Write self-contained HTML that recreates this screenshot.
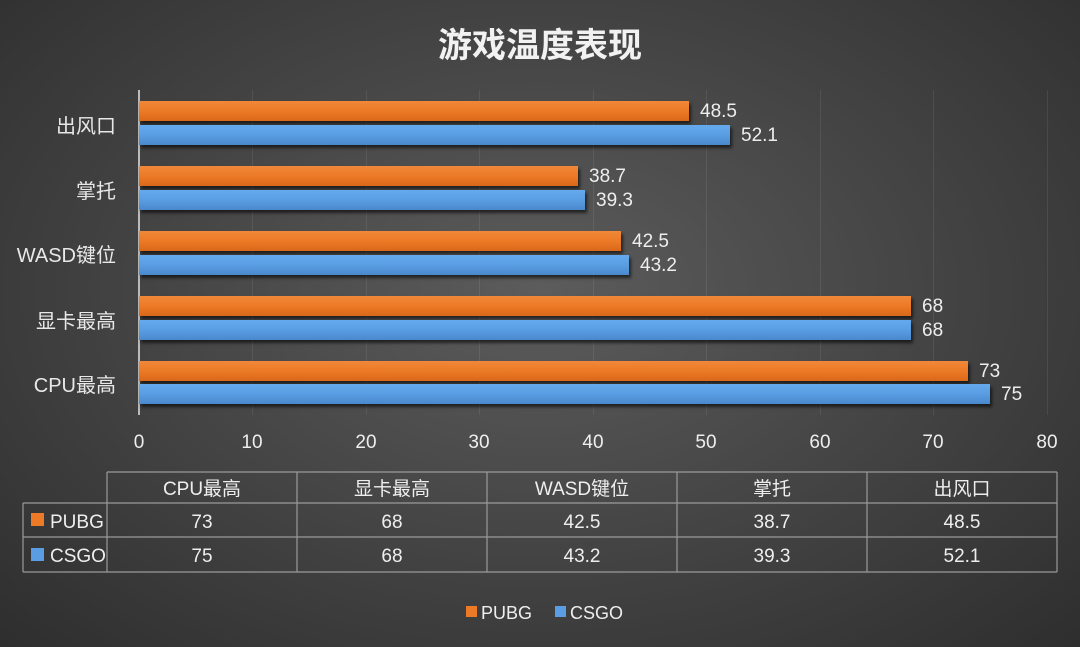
<!DOCTYPE html>
<html><head><meta charset="utf-8"><style>
body{margin:0;width:1080px;height:647px;overflow:hidden;background:radial-gradient(ellipse at 50% 45%,#5c5c5c 0%,#474747 45%,#2e2e2e 100%);font-family:"Liberation Sans","Noto Sans CJK SC",sans-serif;color:#e8e8e8;position:relative}
.a{position:absolute}
.bar{position:absolute;left:139px;height:20px;box-shadow:2px 3px 3px rgba(0,0,0,.6)}
.o{background:linear-gradient(#f0883a,#ec7a26 50%,#d9681a)}
.b{background:linear-gradient(#66aaee,#5a9de2 50%,#4a88cc)}
.v{position:absolute;font-size:19px;color:#eee}
.c{position:absolute;font-size:20px;text-align:right;width:120px;left:0}
.t{position:absolute;font-size:19px;color:#eee;text-align:center;width:40px}
.g{position:absolute;top:90px;height:325px;width:1px;background:rgba(255,255,255,.08)}
</style></head><body>
<div class="a" style="left:0;width:1080px;top:18px;text-align:center;font-size:34px;font-weight:bold;color:#f2f2f2">游戏温度表现</div>
<div class="g" style="left:252px"></div><div class="g" style="left:366px"></div><div class="g" style="left:479px"></div><div class="g" style="left:593px"></div><div class="g" style="left:706px"></div><div class="g" style="left:820px"></div><div class="g" style="left:933px"></div><div class="g" style="left:1047px"></div>
<div class="a" style="left:138px;top:90px;width:2px;height:325px;background:#bbb"></div>

<div class="bar o" style="top:101px;width:550px"></div><div class="bar b" style="top:125px;width:591px"></div>
<div class="bar o" style="top:166px;width:439px"></div><div class="bar b" style="top:190px;width:446px"></div>
<div class="bar o" style="top:231px;width:482px"></div><div class="bar b" style="top:255px;width:490px"></div>
<div class="bar o" style="top:296px;width:772px"></div><div class="bar b" style="top:320px;width:772px"></div>
<div class="bar o" style="top:361px;width:829px"></div><div class="bar b" style="top:384px;width:851px"></div>

<div class="v" style="left:700px;top:101px">48.5</div><div class="v" style="left:741px;top:125px">52.1</div>
<div class="v" style="left:589px;top:166px">38.7</div><div class="v" style="left:596px;top:190px">39.3</div>
<div class="v" style="left:632px;top:231px">42.5</div><div class="v" style="left:640px;top:255px">43.2</div>
<div class="v" style="left:922px;top:296px">68</div><div class="v" style="left:922px;top:320px">68</div>
<div class="v" style="left:979px;top:361px">73</div><div class="v" style="left:1001px;top:384px">75</div>

<div class="c" style="left:-4px;top:110px">出风口</div>
<div class="c" style="left:-4px;top:175px">掌托</div>
<div class="c" style="left:-4px;top:239px">WASD键位</div>
<div class="c" style="left:-4px;top:305px">显卡最高</div>
<div class="c" style="left:-4px;top:369px">CPU最高</div>

<div class="t" style="left:119px;top:432px">0</div><div class="t" style="left:232px;top:432px">10</div><div class="t" style="left:346px;top:432px">20</div><div class="t" style="left:459px;top:432px">30</div><div class="t" style="left:573px;top:432px">40</div><div class="t" style="left:686px;top:432px">50</div><div class="t" style="left:800px;top:432px">60</div><div class="t" style="left:913px;top:432px">70</div><div class="t" style="left:1027px;top:432px">80</div>

<svg class="a" style="left:0;top:0" width="1080" height="647">
<g stroke="#9a9a9a" stroke-width="1.2" fill="none">
<line x1="107" y1="472" x2="1057" y2="472"/><line x1="23" y1="503" x2="1057" y2="503"/><line x1="23" y1="537" x2="1057" y2="537"/><line x1="23" y1="572" x2="1057" y2="572"/>
<line x1="23" y1="503" x2="23" y2="572"/><line x1="107" y1="472" x2="107" y2="572"/><line x1="297" y1="472" x2="297" y2="572"/><line x1="487" y1="472" x2="487" y2="572"/><line x1="677" y1="472" x2="677" y2="572"/><line x1="867" y1="472" x2="867" y2="572"/><line x1="1057" y1="472" x2="1057" y2="572"/>
</g>
<rect x="31" y="513" width="13" height="13" fill="#ec7a26"/><rect x="31" y="548" width="13" height="13" fill="#5a9de2"/>
<rect x="466" y="606" width="11" height="11" fill="#ec7a26"/><rect x="555" y="606" width="11" height="11" fill="#5a9de2"/>
<g font-family="Liberation Sans,Noto Sans CJK SC,sans-serif" font-size="19" fill="#eee" text-anchor="middle">
<text x="202" y="495">CPU最高</text><text x="392" y="495">显卡最高</text><text x="582" y="495">WASD键位</text><text x="772" y="495">掌托</text><text x="962" y="495">出风口</text>
<text x="202" y="528">73</text><text x="392" y="528">68</text><text x="582" y="528">42.5</text><text x="772" y="528">38.7</text><text x="962" y="528">48.5</text>
<text x="202" y="562">75</text><text x="392" y="562">68</text><text x="582" y="562">43.2</text><text x="772" y="562">39.3</text><text x="962" y="562">52.1</text>
<text x="50" y="528" text-anchor="start">PUBG</text><text x="50" y="562" text-anchor="start">CSGO</text>
<text x="481" y="619" text-anchor="start" font-size="18">PUBG</text><text x="570" y="619" text-anchor="start" font-size="18">CSGO</text>
</g></svg>
</body></html>
